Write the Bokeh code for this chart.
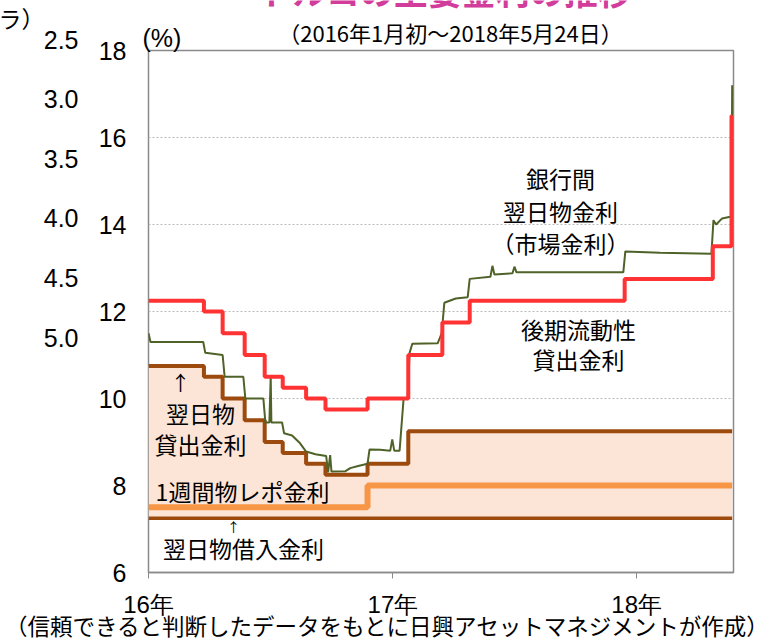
import pandas as pd
from bokeh.plotting import figure
from bokeh.core.properties import value
from bokeh.models import FixedTicker, DatetimeTickFormatter, Label, Range1d, ColumnDataSource
from bokeh.embed import file_html
from bokeh.resources import INLINE

# ---- data -------------------------------------------------------------
policy_dates = ["2016-01-01", "2016-03-24", "2016-04-21", "2016-05-24", "2016-06-23",
                "2016-07-20", "2016-08-24", "2016-09-22", "2016-11-24", "2017-01-24",
                "2017-03-16", "2017-04-26", "2017-12-14", "2018-04-25", "2018-05-23",
                "2018-05-24"]
late_liquidity = [12.25, 12.0, 11.5, 11.0, 10.5, 10.25, 10.0, 9.75, 10.0, 11.0,
                  11.75, 12.25, 12.75, 13.5, 16.5, 16.5]
overnight_lending = [10.75, 10.5, 10.0, 9.5, 9.0, 8.75, 8.5, 8.25, 8.5, 9.25,
                     9.25, 9.25, 9.25, 9.25, 9.25, 9.25]

repo_dates = ["2016-01-01", "2016-11-24", "2018-05-24"]
repo_rate = [7.5, 8.0, 8.0]

borrow_dates = ["2016-01-01", "2018-05-24"]
borrow_rate = [7.25, 7.25]

interbank_dates = ["2016-01-01", "2016-01-04", "2016-03-23", "2016-03-26", "2016-04-21",
                   "2016-04-24", "2016-05-22", "2016-05-25", "2016-06-21", "2016-06-24",
                   "2016-06-30", "2016-07-02", "2016-07-03", "2016-07-19", "2016-07-22",
                   "2016-08-03", "2016-08-15", "2016-08-24", "2016-09-07", "2016-09-23",
                   "2016-09-26", "2016-09-29", "2016-10-01", "2016-10-22", "2016-10-29",
                   "2016-11-10", "2016-11-24", "2016-11-27", "2016-12-13", "2016-12-28",
                   "2016-12-31", "2017-01-03", "2017-01-11", "2017-01-17", "2017-01-23",
                   "2017-01-26", "2017-01-30", "2017-03-09", "2017-03-15", "2017-03-19",
                   "2017-04-05", "2017-04-23", "2017-04-26", "2017-05-27", "2017-05-30",
                   "2017-06-02", "2017-06-29", "2017-07-02", "2017-07-05", "2017-09-09",
                   "2017-12-12", "2017-12-15", "2018-02-05", "2018-04-23", "2018-04-26",
                   "2018-04-30", "2018-05-09", "2018-05-21", "2018-05-23", "2018-05-24"]
interbank_rate = [11.5, 11.3, 11.3, 11.05, 11.0,
                  10.5, 10.5, 10.0, 10.0, 9.45,
                  9.45, 10.5, 9.45, 9.45, 9.2,
                  9.15, 8.97, 8.78, 8.72, 8.68,
                  8.3, 8.7, 8.32, 8.33, 8.4,
                  8.45, 8.5, 8.83, 8.82, 8.8,
                  9.06, 8.8, 8.8, 10.0, 10.0,
                  11.05, 11.26, 11.27, 11.5, 12.2,
                  12.3, 12.33, 12.75, 12.8, 13.05,
                  12.85, 12.88, 13.03, 12.9, 12.9,
                  12.9, 13.38, 13.35, 13.33, 14.1,
                  14.0, 14.14, 14.18, 14.2, 17.2]

year_ticks = ["2016-01-01", "2017-01-01", "2018-01-01"]
y_ticks = [6, 8, 10, 12, 14, 16, 18]
neighbor_ticks = ["2.5", "3.0", "3.5", "4.0", "4.5", "5.0"]

# ---- main figure ------------------------------------------------------
W, H = 778, 641
to_dt = pd.to_datetime
JP = "Noto Sans CJK JP"

p = figure(width=W, height=H, output_backend="svg", toolbar_location=None,
           x_axis_type="datetime",
           x_range=Range1d(to_dt("2016-01-01"), to_dt("2018-05-26")),
           y_range=Range1d(6, 18),
           min_border_left=148, min_border_right=45, min_border_top=50, min_border_bottom=69)
p.background_fill_color = "white"
p.border_fill_color = "white"
p.outline_line_color = "#8a8a8a"
p.outline_line_width = 1.5

fill_src = ColumnDataSource(dict(x=to_dt(policy_dates), y1=[borrow_rate[0]] * len(policy_dates),
                                 y2=overnight_lending))
p.varea_step(x="x", y1="y1", y2="y2", step_mode="after", source=fill_src,
             fill_color="#FCE4D6", fill_alpha=1.0)

p.step(to_dt(borrow_dates), borrow_rate, mode="after", line_color="#9C4A0E", line_width=3.5)
p.step(to_dt(repo_dates), repo_rate, mode="after", line_color="#F79646", line_width=6)
p.step(to_dt(policy_dates), overnight_lending, mode="after", line_color="#9C4A0E", line_width=4)
p.line(to_dt(interbank_dates), interbank_rate, line_color="#4F6228", line_width=2)
p.step(to_dt(policy_dates), late_liquidity, mode="after", line_color="#FF3333", line_width=4)

p.xgrid.visible = False
p.ygrid.ticker = FixedTicker(ticks=y_ticks)
p.ygrid.grid_line_color = "#BBBBBB"
p.ygrid.grid_line_dash = "2 2"
p.ygrid.grid_line_width = 1

p.yaxis.ticker = FixedTicker(ticks=y_ticks)
p.yaxis.axis_line_color = None
p.yaxis.major_tick_line_color = None
p.yaxis.minor_tick_line_color = None
p.yaxis.major_label_text_font = "Liberation Sans"
p.yaxis.major_label_text_font_size = "25px"
p.yaxis.major_label_text_color = "black"
p.yaxis.major_label_standoff = 16

p.xaxis.ticker = FixedTicker(ticks=[to_dt(t).value / 1e6 for t in year_ticks])
fmt = "%y年"
p.xaxis.formatter = DatetimeTickFormatter(microseconds=fmt, milliseconds=fmt, seconds=fmt,
                                          minsec=fmt, minutes=fmt, hourmin=fmt, hours=fmt,
                                          days=fmt, months=fmt, years=fmt)
p.xaxis.axis_line_color = "#8a8a8a"
p.xaxis.axis_line_width = 1.5
p.xaxis.major_tick_line_color = "#8a8a8a"
p.xaxis.major_tick_out = 6
p.xaxis.major_tick_in = 0
p.xaxis.minor_tick_line_color = None
p.xaxis.major_label_text_font = "Liberation Sans"
p.xaxis.major_label_text_font_size = "24px"
p.xaxis.major_label_text_color = "black"
p.xaxis.major_label_standoff = 12


def lab(text, x, y, size, align="center"):
    p.add_layout(Label(x=x, y=y, x_units="canvas", y_units="canvas", text=text,
                       text_font=JP, text_font_size=f"{size}px", text_color="black",
                       text_align=align, text_baseline="middle"))


lab("銀行間", 560, 177, 23)
lab("翌日物金利", 560, 210, 23)
lab("（市場金利）", 560, 242, 23)
lab("後期流動性", 578, 328, 23)
lab("貸出金利", 578, 358, 23)
lab("↑", 180, 382, 20)
lab("翌日物", 200, 412, 23)
lab("貸出金利", 200, 443, 23)
lab("1週間物レポ金利", 242, 490, 23)
lab("↑", 233, 526, 13)
lab("翌日物借入金利", 243, 547, 23)

# ---- transparent overlay (separate root) for texts outside the frame ----
ov = figure(width=W, height=H, output_backend="svg", toolbar_location=None,
            x_range=Range1d(0, W), y_range=Range1d(H, 0),
            x_axis_location=None, y_axis_location=None,
            min_border=0, min_border_left=0, min_border_right=0,
            min_border_top=0, min_border_bottom=0)
ov.background_fill_color = None
ov.border_fill_color = None
ov.outline_line_color = None
ov.grid.visible = False
ov.styles = {"margin-top": f"-{H}px", "pointer-events": "none"}


def otext(text, x, y, size, align="center", font=JP, color="black", style="normal",
          baseline="middle"):
    ov.text(x=[x], y=[y], text=[text], text_font=value(font), text_font_size=value(f"{size}px"),
            text_color=color, text_align=align, text_baseline=baseline,
            text_font_style=style)


otext("トルコの主要金利の推移", 445, 14, 34, color="#D23C9B", style="bold", baseline="bottom")
otext("（2016年1月初～2018年5月24日）", 450, 31, 22)
otext("(%)", 142, 37, 25, align="left", font="Liberation Sans")
otext("ラ）", -2, 17, 23, align="left")
for i, t in enumerate(neighbor_ticks):
    otext(t, 78, 39 + i * 59.6, 25, align="right", font="Liberation Sans")
otext("（信頼できると判断したデータをもとに日興アセットマネジメントが作成）", 387, 624, 22.5)

open("out.html", "w").write(file_html([p, ov], INLINE))
